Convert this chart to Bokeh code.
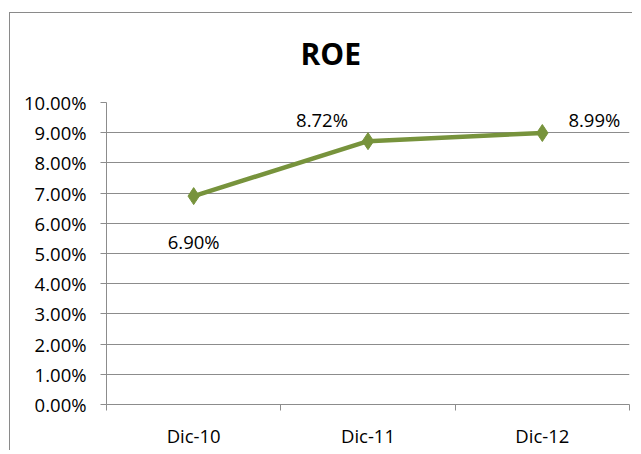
from bokeh.plotting import figure
from bokeh.models import ColumnDataSource, FixedTicker, NumeralTickFormatter, Range1d
from bokeh.core.properties import value
from bokeh.embed import file_html
from bokeh.resources import INLINE

categories = ["Dic-10", "Dic-11", "Dic-12"]
roe = [0.0690, 0.0872, 0.0899]
y_ticks = [0.00, 0.01, 0.02, 0.03, 0.04, 0.05, 0.06, 0.07, 0.08, 0.09, 0.10]

# label placement (screen pixel offsets, style only)
label_dx = [0, -46, 52]
label_dy = [45, -22, -14]

GREEN = "#77933C"
GRID = "#8C8C8C"
FONT = "Open Sans"
FS = "18.5px"

xs = [i + 0.5 for i in range(len(categories))]
src = ColumnDataSource(dict(
    x=xs, y=roe, label=[f"{v:.2%}" for v in roe], dx=label_dx, dy=label_dy,
))

p = figure(frame_width=523, frame_height=302, output_backend="svg", toolbar_location=None,
           x_range=Range1d(0, len(categories)), y_range=Range1d(0, 0.10),
           min_border_left=97, min_border_right=3, min_border_top=60, min_border_bottom=36,
           title="ROE")
line_bg = "linear-gradient(#8a8a8a, #8a8a8a)"
p.styles = {
    "margin-left": "9px",
    "margin-top": "1px",
    "background": f"{line_bg} no-repeat 0px 11px / 100% 1px, {line_bg} no-repeat 0px 11px / 1px 100%, white",
}
p.border_fill_color = None
p.outline_line_color = None
p.background_fill_color = "white"

p.title.align = "left"
p.title.offset = 194
p.title.text_font = FONT
p.title.text_font_style = "bold"
p.title.text_font_size = "30px"
p.title.text_color = "black"
p.title.standoff = 58

# x axis: labels at category centres, tick marks at category boundaries
xt = FixedTicker(ticks=xs, minor_ticks=list(range(len(categories) + 1)))
p.xaxis.ticker = xt
p.xaxis.major_label_overrides = {x: c for x, c in zip(xs, categories)}
p.xaxis.major_tick_line_color = None
p.xaxis.major_tick_out = 6
p.xaxis.major_tick_in = 0
p.xaxis.minor_tick_line_color = GRID
p.xaxis.minor_tick_out = 6
p.xaxis.minor_tick_in = 0
p.xaxis.axis_line_color = GRID
p.xaxis.major_label_standoff = 12
p.xaxis.major_label_text_font = FONT
p.xaxis.major_label_text_font_size = FS
p.xaxis.major_label_text_color = "black"
p.xgrid.grid_line_color = None

p.yaxis.ticker = FixedTicker(ticks=y_ticks)
p.yaxis.formatter = NumeralTickFormatter(format="0.00%")
p.yaxis.axis_line_color = GRID
p.yaxis.major_tick_line_color = GRID
p.yaxis.major_tick_out = 6
p.yaxis.major_tick_in = 0
p.yaxis.minor_tick_line_color = None
p.yaxis.major_label_standoff = 14
p.yaxis.major_label_text_font = FONT
p.yaxis.major_label_text_font_size = FS
p.yaxis.major_label_text_color = "black"
p.ygrid.grid_line_color = GRID
p.ygrid.grid_line_width = 1

p.line("x", "y", source=src, line_color=GREEN, line_width=4.5)
p.scatter("x", "y", source=src, marker="diamond", size=17, fill_color=GREEN, line_color=GREEN)
p.text("x", "y", text="label", source=src, x_offset="dx", y_offset="dy",
       text_align="center", text_baseline="middle", text_font=value(FONT),
       text_font_size=FS, text_color="black")

open("out.html", "w").write(file_html(p, INLINE))
